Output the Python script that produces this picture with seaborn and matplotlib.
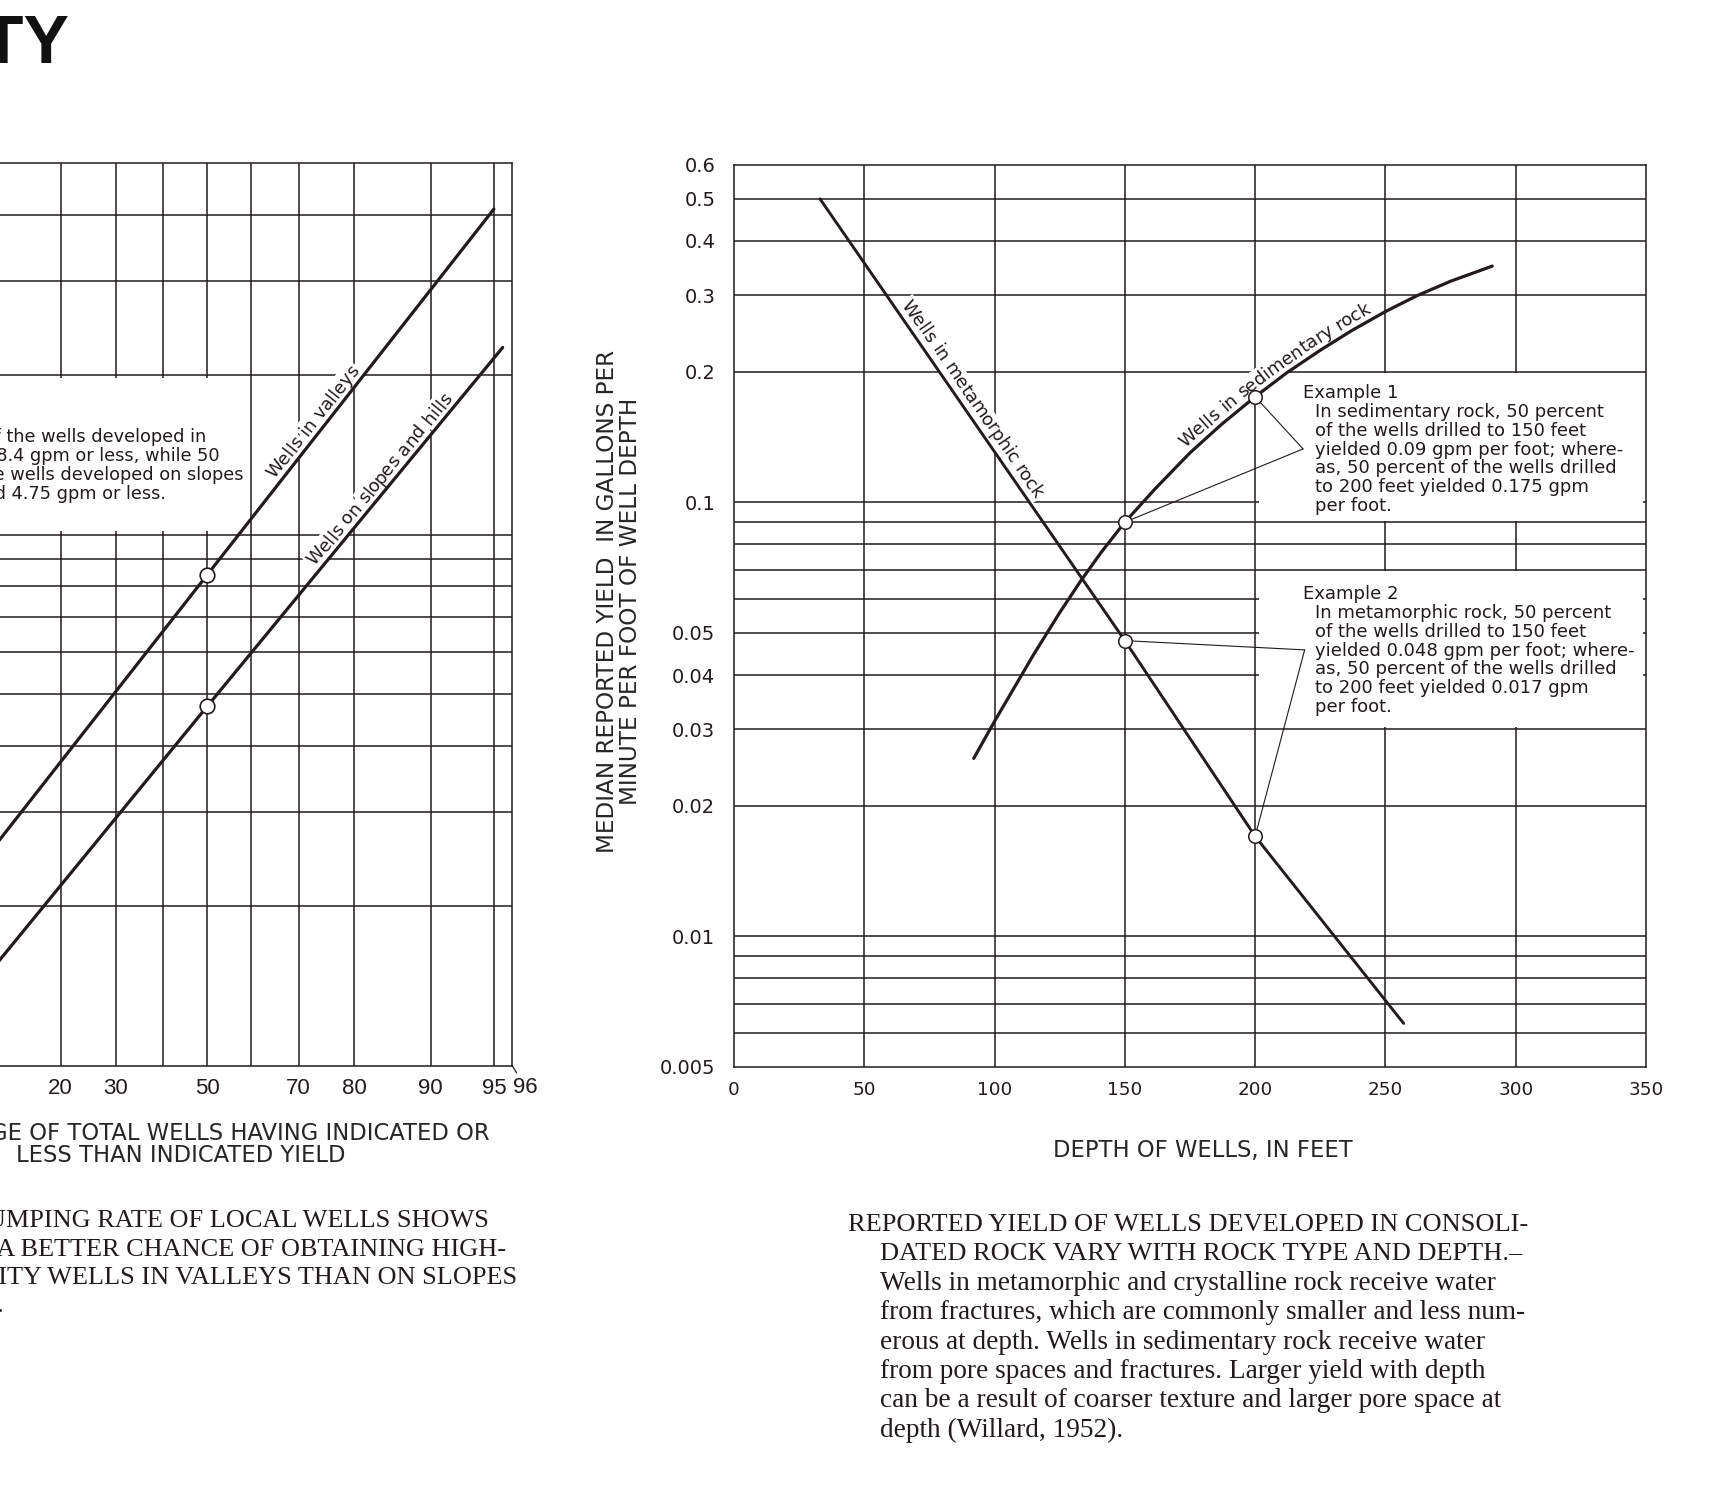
import numpy as np
import pandas as pd
import matplotlib
matplotlib.use("Agg")
import matplotlib.pyplot as plt
import seaborn as sns
from matplotlib.patches import Rectangle
from matplotlib.ticker import FixedLocator, FixedFormatter, NullLocator
from matplotlib.transforms import IdentityTransform
from matplotlib.font_manager import FontProperties
from statistics import NormalDist

# ---------------- right chart: median yield per foot vs. depth ----------------
sed_depth = [92, 100, 115, 125, 133, 141, 150, 162, 175, 187, 200, 212, 225, 237,
             250, 262, 275, 291]
sed_yield = [0.0257, 0.0313, 0.0446, 0.0557, 0.0658, 0.0768, 0.090, 0.108, 0.130,
             0.151, 0.175, 0.1985, 0.224, 0.2485, 0.275, 0.299, 0.323, 0.350]
met_depth = [33, 150, 200, 257]
met_yield = [0.50, 0.048, 0.017, 0.0063]

ex1_depth = [150, 200]
ex1_yield = [0.09, 0.175]
ex2_depth = [150, 200]
ex2_yield = [0.048, 0.017]

depth_ticks = [0, 50, 100, 150, 200, 250, 300, 350]
depth_grid = [50, 100, 150, 200, 250, 300]
yield_ticks = [0.005, 0.01, 0.02, 0.03, 0.04, 0.05, 0.1, 0.2, 0.3, 0.4, 0.5, 0.6]
yield_labels = ["0.005", "0.01", "0.02", "0.03", "0.04", "0.05", "0.1", "0.2",
                "0.3", "0.4", "0.5", "0.6"]
yield_grid = [0.006, 0.007, 0.008, 0.009, 0.01, 0.02, 0.03, 0.04, 0.05, 0.06,
              0.07, 0.08, 0.09, 0.1, 0.2, 0.3, 0.4, 0.5]

# ---------------- left chart: pumping rate frequency ----------------
valley_pct = [5, 50, 95]
valley_gpm = [1.72, 8.4, 41.0]
slope_pct = [5, 50, 95.5]
slope_gpm = [1.04, 4.75, 22.5]
median_pct = [50, 50]
median_gpm = [8.4, 4.75]

pct_ticks = [2, 5, 10, 20, 30, 50, 70, 80, 90, 95]
pct_grid = [5, 10, 20, 30, 40, 50, 60, 70, 80, 90, 95]
gpm_ticks = [1, 2, 3, 4, 5, 6, 7, 8, 9, 10, 20, 30, 40, 50]
gpm_grid = [2, 3, 4, 5, 6, 7, 8, 9, 10, 20, 30, 40]

INK = "#221b1b"
W, H, DPI = 1719, 1486, 100
SANS = "DejaVu Sans"
SERIF = "Liberation Serif"

sns.set_theme(style="white")
plt.rcParams["font.family"] = [SANS]
plt.rcParams["axes.edgecolor"] = INK
plt.rcParams["axes.linewidth"] = 1.1
plt.rcParams["text.color"] = INK
plt.rcParams["xtick.color"] = INK
plt.rcParams["ytick.color"] = INK

fig = plt.figure(figsize=(W / DPI, H / DPI), dpi=DPI, facecolor="white")


def fig_box(left, top, right, bottom):
    return [left / W, 1 - bottom / H, (right - left) / W, (bottom - top) / H]


def fx(x):
    return x / W


def fy(y):
    return 1 - y / H


_nd = NormalDist()


def probit(p):
    p = np.clip(np.asarray(p, dtype=float), 1e-4, 100 - 1e-4) / 100.0
    return np.vectorize(_nd.inv_cdf, otypes=[float])(p)


def inv_probit(z):
    z = np.clip(np.asarray(z, dtype=float), -9, 9)
    return np.vectorize(_nd.cdf, otypes=[float])(z) * 100.0


ax_l = fig.add_axes(fig_box(-150.6, 163.3, 512.3, 1065.7))
ax_r = fig.add_axes(fig_box(734, 164.5, 1646, 1067))

# ---------------- left chart ----------------
sns.lineplot(x=valley_pct, y=valley_gpm, ax=ax_l, color=INK, lw=2.3,
             estimator=None, zorder=4)
sns.lineplot(x=slope_pct, y=slope_gpm, ax=ax_l, color=INK, lw=2.3,
             estimator=None, zorder=4)
sns.scatterplot(x=median_pct, y=median_gpm, ax=ax_l, s=110, color="white",
                edgecolor=INK, linewidth=1.2, zorder=5)
ax_l.set_xscale("function", functions=(probit, inv_probit))
ax_l.set_yscale("log")
ax_l.set_xlim(2, 96)
ax_l.set_ylim(1, 50)
for p in pct_grid:
    ax_l.axvline(p, color=INK, lw=1.1, zorder=1)
for g in gpm_grid:
    ax_l.axhline(g, color=INK, lw=1.1, zorder=1)
ax_l.add_patch(Rectangle((2, 10.15), 59.2 - 2, 19.7 - 10.15, facecolor="white",
                         edgecolor="none", zorder=2))
ax_l.xaxis.set_major_locator(FixedLocator(pct_ticks))
ax_l.xaxis.set_major_formatter(FixedFormatter([str(p) for p in pct_ticks]))
ax_l.xaxis.set_minor_locator(NullLocator())
ax_l.yaxis.set_major_locator(FixedLocator(gpm_ticks))
ax_l.yaxis.set_major_formatter(FixedFormatter([str(g) for g in gpm_ticks]))
ax_l.yaxis.set_minor_locator(NullLocator())
ax_l.tick_params(length=0, labelsize=16, pad=9, labelfontfamily="Liberation Sans")
ax_l.set_ylabel("")
ax_l.annotate("96", xy=(96, 1), xycoords="data", xytext=(9.6, -16),
              textcoords="offset points", ha="center", va="center", fontsize=16,
              family="Liberation Sans", color=INK,
              arrowprops=dict(arrowstyle="-", color=INK, lw=0.9, shrinkA=1, shrinkB=0))
for spine in ax_l.spines.values():
    spine.set_zorder(6)

ax_l.set_xlabel("PERCENTAGE OF TOTAL WELLS HAVING INDICATED OR\nLESS THAN INDICATED YIELD",
                fontsize=16.3, linespacing=0.96)
ax_l.xaxis.set_label_coords(0.5, -0.0875)
ax_l.xaxis.label.set_va("center")

box_lines = ["Example: 50 percent of the wells developed in",
             "valleys yielded 8.4 gpm or less, while 50",
             "percent of the wells developed on slopes",
             "and hills yielded 4.75 gpm or less."]
box_right = [206, 220, 243, 166]
for i, (line, xr) in enumerate(zip(box_lines, box_right)):
    fig.text(fx(xr), fy(437.5 + 18.7 * i), line, ha="right", va="center",
             fontsize=12.8, color=INK)

# ---------------- right chart ----------------
sns.lineplot(x=sed_depth, y=sed_yield, ax=ax_r, color=INK, lw=2.3,
             estimator=None, zorder=4)
sns.lineplot(x=met_depth, y=met_yield, ax=ax_r, color=INK, lw=2.1,
             estimator=None, zorder=4)
ax_r.set_yscale("log")
ax_r.set_xlim(0, 350)
ax_r.set_ylim(0.005, 0.6)
for d in depth_grid:
    ax_r.axvline(d, color=INK, lw=1.1, zorder=1)
for g in yield_grid:
    ax_r.axhline(g, color=INK, lw=1.1, zorder=1)
# white panels that carry the two worked examples
ax_r.add_patch(Rectangle((201.5, 0.0906), 349 - 201.5, 0.1985 - 0.0906,
                         facecolor="white", edgecolor="none", zorder=2))
ax_r.add_patch(Rectangle((201.5, 0.0303), 349 - 201.5, 0.0693 - 0.0303,
                         facecolor="white", edgecolor="none", zorder=2))

# leader lines from the example points to their notes
for dx, dy in zip(ex1_depth, ex1_yield):
    ax_r.annotate("", xy=(dx, dy), xytext=(218.4, 0.1327),
                  arrowprops=dict(arrowstyle="-", color=INK, lw=0.8,
                                  shrinkA=0, shrinkB=0), zorder=4)
for dx, dy in zip(ex2_depth, ex2_yield):
    ax_r.annotate("", xy=(dx, dy), xytext=(219.0, 0.0457),
                  arrowprops=dict(arrowstyle="-", color=INK, lw=0.8,
                                  shrinkA=0, shrinkB=0), zorder=4)
sns.scatterplot(x=ex1_depth + ex2_depth, y=ex1_yield + ex2_yield, ax=ax_r, s=95,
                color="white", edgecolor=INK, linewidth=1.1, zorder=5)

ax_r.xaxis.set_major_locator(FixedLocator(depth_ticks))
ax_r.xaxis.set_major_formatter(FixedFormatter([str(d) for d in depth_ticks]))
ax_r.xaxis.set_minor_locator(NullLocator())
ax_r.yaxis.set_major_locator(FixedLocator(yield_ticks))
ax_r.yaxis.set_major_formatter(FixedFormatter(yield_labels))
ax_r.yaxis.set_minor_locator(NullLocator())
ax_r.tick_params(axis="x", length=0, labelsize=13.2, pad=10)
ax_r.tick_params(axis="y", length=0, labelsize=14, pad=13.5)
for spine in ax_r.spines.values():
    spine.set_zorder(6)

ax_r.set_xlabel("DEPTH OF WELLS, IN FEET", fontsize=16.3)
ax_r.xaxis.set_label_coords(0.514, -0.093)
ax_r.xaxis.label.set_va("center")
ax_r.set_ylabel("MEDIAN REPORTED YIELD  IN GALLONS PER\nMINUTE PER FOOT OF WELL DEPTH",
                fontsize=16.7, linespacing=1.0)
ax_r.yaxis.set_label_coords(-0.126, 0.516)
ax_r.yaxis.label.set_va("center")

ex1_lines = ["In sedimentary rock, 50 percent",
             "of the wells drilled to 150 feet",
             "yielded 0.09 gpm per foot; where-",
             "as, 50 percent of the wells drilled",
             "to 200 feet yielded 0.175 gpm",
             "per foot."]
ex2_lines = ["In metamorphic rock, 50 percent",
             "of the wells drilled to 150 feet",
             "yielded 0.048 gpm per foot; where-",
             "as, 50 percent of the wells drilled",
             "to 200 feet yielded 0.017 gpm",
             "per foot."]
for head, lines, y0 in (("Example 1", ex1_lines, 393), ("Example 2", ex2_lines, 594)):
    fig.text(fx(1303), fy(y0), head, ha="left", va="center", fontsize=13, color=INK)
    for i, line in enumerate(lines):
        fig.text(fx(1315), fy(y0 + 19 + 18.8 * i), line, ha="left", va="center",
                 fontsize=13, color=INK)

# ---------------- labels set along the curves ----------------
fig.canvas.draw()
renderer = fig.canvas.get_renderer()


def text_along(ax, xs, ys, text, start, offset, size=13):
    pts = ax.transData.transform(np.column_stack([xs, ys]))
    cum = np.concatenate([[0.0], np.cumsum(np.hypot(*np.diff(pts, axis=0).T))])
    xd = ax.transData.transform((start, ys[0]))[0]
    s = float(np.interp(xd, pts[:, 0], cum))
    fp = FontProperties(family=SANS, size=size)

    def width(t):
        tt = fig.text(0, 0, t, fontproperties=fp)
        w = tt.get_window_extent(renderer).width
        tt.remove()
        return w

    def at(d):
        return np.array([np.interp(d, cum, pts[:, 0]), np.interp(d, cum, pts[:, 1])])

    base = width("xx")
    placed = []
    for ch in text:
        adv = width("x" + ch + "x") - base
        mid = s + adv / 2
        p0, p1 = at(mid - 18), at(mid + 18)
        ang = np.arctan2(p1[1] - p0[1], p1[0] - p0[0])
        normal = np.array([-np.sin(ang), np.cos(ang)])
        pos = at(mid) + normal * offset
        if ch.strip():
            placed.append((pos, ch, np.degrees(ang)))
        s += adv
    common = dict(transform=IdentityTransform(), fontproperties=fp,
                  rotation_mode="anchor", ha="center", va="baseline", clip_on=False)
    # white knock-out behind the lettering, then the letters on top
    for pos, ch, deg in placed:
        ax.text(pos[0], pos[1], ch, rotation=deg, color="white", zorder=2.9,
                bbox=dict(boxstyle="square,pad=0.12", fc="white", ec="none"), **common)
    for pos, ch, deg in placed:
        ax.text(pos[0], pos[1], ch, rotation=deg, color=INK, zorder=3, **common)


text_along(ax_r, met_depth, met_yield, "Wells in metamorphic rock", 62, 6)
text_along(ax_r, sed_depth, sed_yield, "Wells in sedimentary rock", 175, 6.5)
text_along(ax_l, valley_pct, valley_gpm, "Wells in valleys", 66.0, 6)
text_along(ax_l, slope_pct, slope_gpm, "Wells on slopes and hills", 74.0, 6)

# ---------------- headings and captions ----------------
fig.text(fx(69), fy(63), "AVAILABILITY", ha="right", va="baseline", fontsize=49,
         family="Liberation Sans", weight="bold", color="#111111")

cap_left = ["SUMMARY OF PUMPING RATE OF LOCAL WELLS SHOWS",
            "THAT THERE IS A BETTER CHANCE OF OBTAINING HIGH-",
            "CAPACITY WELLS IN VALLEYS THAN ON SLOPES",
            "AND HILLS."]
cap_left_right = [489, 506, 517, 4]
for i, (line, xr) in enumerate(zip(cap_left, cap_left_right)):
    fig.text(fx(xr), fy(1227 + 28.5 * i), line, ha="right", va="baseline",
             fontsize=18.9, family=SERIF, color=INK)

cap_right = ["REPORTED YIELD OF WELLS DEVELOPED IN CONSOLI-",
             "DATED ROCK VARY WITH ROCK TYPE AND DEPTH.\u2013",
             "Wells in metamorphic and crystalline rock receive water",
             "from fractures, which are commonly smaller and less num-",
             "erous at depth. Wells in sedimentary rock receive water",
             "from pore spaces and fractures. Larger yield with depth",
             "can be a result of coarser texture and larger pore space at",
             "depth (Willard, 1952)."]
for i, line in enumerate(cap_right):
    x0 = 848 if i == 0 else 879.5
    size = 19.0 if i < 2 else 19.6
    fig.text(fx(x0), fy(1231 + 29.4 * i), line, ha="left", va="baseline",
             fontsize=size, family=SERIF, color=INK)

fig.savefig("out.png", dpi=DPI, facecolor="white")
